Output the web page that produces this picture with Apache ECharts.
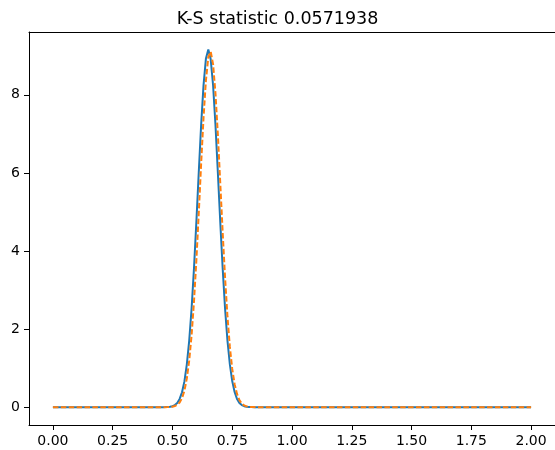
<!DOCTYPE html>
<html>
<head>
<meta charset="utf-8">
<script src="https://cdn.jsdelivr.net/npm/echarts@6/dist/echarts.min.js"></script>
<style>
html, body { margin: 0; padding: 0; background: #fff; }
#chart { width: 555px; height: 450px; }
</style>
</head>
<body>
<div id="chart"></div>
<script>
// x positions (flat tails are sampled coarsely, the peak every 0.01)
var xVals = [0, 0.1, 0.2, 0.3, 0.4,
	0.45, 0.46, 0.47, 0.48, 0.49, 0.50, 0.51, 0.52, 0.53, 0.54,
	0.55, 0.56, 0.57, 0.58, 0.59, 0.60, 0.61, 0.62, 0.63, 0.64,
	0.65, 0.66, 0.67, 0.68, 0.69, 0.70, 0.71, 0.72, 0.73, 0.74,
	0.75, 0.76, 0.77, 0.78, 0.79, 0.80, 0.81, 0.82, 0.83, 0.84,
	0.85, 0.86,
	0.9, 1.0, 1.1, 1.2, 1.3, 1.4, 1.5, 1.6, 1.7, 1.8, 1.9, 2.0];

// blue solid curve
var blueVals = [0, 0, 0, 0, 0,
	0, 0, 0.002, 0.005, 0.011, 0.025, 0.053, 0.107, 0.21, 0.38,
	0.66, 1.09, 1.70, 2.52, 3.55, 4.74, 6.01, 7.23, 8.25, 8.93,
	9.16, 8.91, 8.24, 7.22, 6.00, 4.74, 3.56, 2.53, 1.71, 1.10,
	0.67, 0.39, 0.21, 0.107, 0.053, 0.025, 0.011, 0.005, 0.002, 0,
	0, 0,
	0, 0, 0, 0, 0, 0, 0, 0, 0, 0, 0, 0];

// orange dashed curve
var orangeVals = [0, 0, 0, 0, 0,
	0, 0, 0, 0.002, 0.005, 0.012, 0.03, 0.06, 0.12, 0.23,
	0.42, 0.73, 1.19, 1.84, 2.70, 3.76, 4.97, 6.24, 7.42, 8.37,
	8.97, 9.11, 8.78, 8.03, 6.97, 5.73, 4.48, 3.32, 2.33, 1.55,
	0.98, 0.59, 0.34, 0.18, 0.09, 0.045, 0.02, 0.009, 0.004, 0.002,
	0, 0,
	0, 0, 0, 0, 0, 0, 0, 0, 0, 0, 0, 0];

var xTicks = [0, 0.25, 0.5, 0.75, 1, 1.25, 1.5, 1.75, 2];
var yTicks = [0, 2, 4, 6, 8];

var titleText = 'K-S statistic 0.0571938';

function pairs(xs, ys) {
	var out = [];
	for (var i = 0; i < xs.length; i++) {
		out.push([xs[i], ys[i]]);
	}
	return out;
}

var font = 'DejaVu Sans';
var chart = echarts.init(document.getElementById('chart'), null, { renderer: 'canvas' });

var option = {
	animation: false,
	title: {
		text: titleText,
		left: 'center',
		top: 5,
		textStyle: { fontFamily: font, fontSize: 17.5, fontWeight: 'normal', color: '#000' }
	},
	grid: {
		left: 29,
		top: 32,
		width: 528,
		bottom: 25,
		show: false
	},
	xAxis: [{
		type: 'value',
		min: -0.1,
		max: 2.1,
		splitLine: { show: false },
		axisLine: { show: true, onZero: false, lineStyle: { color: '#000', width: 1 } },
		axisTick: { show: true, length: 5, customValues: xTicks, lineStyle: { color: '#000' } },
		axisLabel: {
			customValues: xTicks,
			margin: 9,
			fontFamily: font,
			fontSize: 14,
			color: '#000',
			formatter: function (v) { return v.toFixed(2); }
		}
	}, {
		// top spine only
		type: 'value',
		position: 'top',
		min: -0.1,
		max: 2.1,
		splitLine: { show: false },
		axisLine: { show: true, onZero: false, lineStyle: { color: '#000', width: 1 } },
		axisTick: { show: false },
		axisLabel: { show: false }
	}],
	yAxis: {
		type: 'value',
		min: -0.457,
		max: 9.61,
		splitLine: { show: false },
		axisLine: { show: true, onZero: false, lineStyle: { color: '#000', width: 1 } },
		axisTick: { show: true, length: 5, customValues: yTicks, lineStyle: { color: '#000' } },
		axisLabel: {
			customValues: yTicks,
			margin: 9,
			fontFamily: font,
			fontSize: 14,
			color: '#000'
		}
	},
	series: [
		{
			name: 'blue',
			type: 'line',
			data: pairs(xVals, blueVals),
			showSymbol: false,
			lineStyle: { color: '#1f77b4', width: 2 },
			z: 2
		},
		{
			name: 'orange',
			type: 'line',
			data: pairs(xVals, orangeVals),
			showSymbol: false,
			lineStyle: { color: '#ff7f0e', width: 2, type: [5.5, 2.4] },
			z: 3
		}
	]
};

chart.setOption(option);
</script>
</body>
</html>
